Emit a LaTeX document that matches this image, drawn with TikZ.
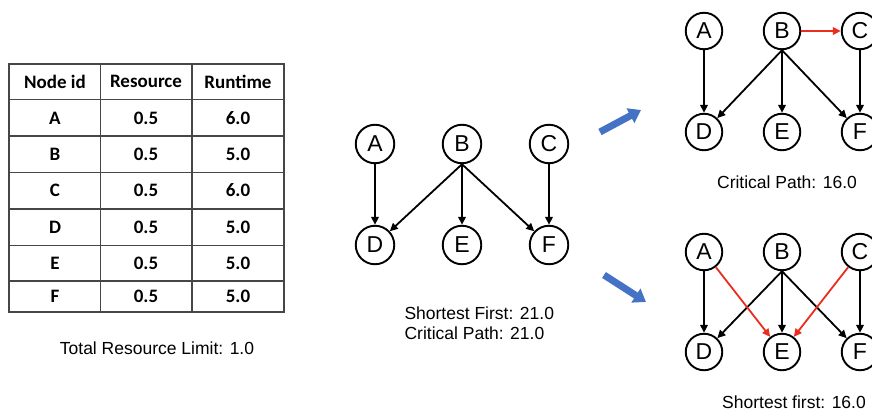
\documentclass[tikz,border=0pt]{standalone}
\usepackage{fontspec}
\setmainfont{Liberation Sans}
\newfontfamily\tabfont{Carlito}
\usetikzlibrary{arrows.meta}
\definecolor{edgered}{RGB}{235,45,30}
\definecolor{arrowblue}{RGB}{68,114,196}
\definecolor{gridgray}{RGB}{70,70,70}
\tikzset{
  vtx/.style={circle,draw,line width=1.9pt,minimum size=38.5pt,inner sep=0pt,font=\fontsize{23}{23}\selectfont},
  svtx/.style={circle,draw,line width=1.9pt,minimum size=36.5pt,inner sep=0pt,font=\fontsize{23}{23}\selectfont},
  dep/.style={line width=1.8pt,-{Triangle[length=8pt,width=7.5pt]}},
  hot/.style={dep,edgered},
  cell/.style={font=\tabfont\bfseries\fontsize{19}{19}\selectfont,anchor=center},
  caption/.style={font=\fontsize{17.5}{20}\selectfont},
  bigarrow/.style={arrowblue,line width=7pt,-{Triangle[length=12pt,width=16pt]}}
}
\begin{document}
\begin{tikzpicture}[x=1pt,y=-1pt]
\useasboundingbox (0,0) rectangle (872,412);
\clip (0,0) rectangle (872,412);

% resource table
\draw[gridgray,line width=1.2pt] (9,64) rectangle (284,312);
\foreach \y in {99.5,136,172.5,209,245.5,281}
  \draw[gridgray,line width=1.2pt] (9,\y) -- (284,\y);
\foreach \x in {100.5,192}
  \draw[gridgray,line width=1.2pt] (\x,64) -- (\x,312);
\node[cell] (h1) at (55,81.5) {Node id};
\node[cell] (h2) at (146,81.5) {Resource};
\node[cell] (h3) at (238,81.5) {Runtime};
\foreach \id/\res/\run/\y [count=\i] in {A/0.5/6.0/118,B/0.5/5.0/154,C/0.5/6.0/190.5,D/0.5/5.0/227,E/0.5/5.0/263,F/0.5/5.0/296.5}{
  \node[cell] (id\i) at (55,\y) {\id};
  \node[cell] (res\i) at (146,\y) {\res};
  \node[cell] (run\i) at (238,\y) {\run};
}
\node[caption] (limit) at (157,348) {Total Resource Limit: 1.0};

% original dependency graph
\node[vtx] (mA) at (375,144) {A};
\node[vtx] (mB) at (462,144) {B};
\node[vtx] (mC) at (549,144) {C};
\node[vtx] (mD) at (375,245) {D};
\node[vtx] (mE) at (462,245) {E};
\node[vtx] (mF) at (549,245) {F};
\draw[dep] (mA) -- (mD);
\draw[dep] (mB.south) -- (mD);
\draw[dep] (mB) -- (mE);
\draw[dep] (mB.south) -- (mF);
\draw[dep] (mC) -- (mF);
\node[caption,align=left,anchor=north west] (mcap) at (401,303) {Shortest First: 21.0\\Critical Path: 21.0};

% arrows to the two schedules
\coordinate (u0) at (600,132);
\coordinate (u1) at (641,110);
\coordinate (d0) at (604,275);
\coordinate (d1) at (646,302);
\draw[bigarrow] (u0) -- (u1);
\draw[bigarrow] (d0) -- (d1);

% critical-path schedule
\node[svtx] (tA) at (704,31) {A};
\node[svtx] (tB) at (782,31) {B};
\node[svtx] (tC) at (860,31) {C};
\node[svtx] (tD) at (704,132) {D};
\node[svtx] (tE) at (782,132) {E};
\node[svtx] (tF) at (860,132) {F};
\draw[dep] (tA) -- (tD);
\draw[dep] (tB.south) -- (tD);
\draw[dep] (tB) -- (tE);
\draw[dep] (tB.south) -- (tF);
\draw[dep] (tC) -- (tF);
\draw[hot] (tB) -- (tC);
\node[caption] (tcap) at (787,182) {Critical Path: 16.0};

% shortest-first schedule
\node[svtx] (bA) at (704,252) {A};
\node[svtx] (bB) at (782,252) {B};
\node[svtx] (bC) at (860,252) {C};
\node[svtx] (bD) at (704,352) {D};
\node[svtx] (bE) at (782,352) {E};
\node[svtx] (bF) at (860,352) {F};
\draw[dep] (bA) -- (bD);
\draw[dep] (bB.south) -- (bD);
\draw[dep] (bB) -- (bE);
\draw[dep] (bB.south) -- (bF);
\draw[dep] (bC) -- (bF);
\draw[hot] (bA) -- (bE);
\draw[hot] (bC) -- (bE);
\node[caption] (bcap) at (794,402) {Shortest first: 16.0};
\end{tikzpicture}
\end{document}
